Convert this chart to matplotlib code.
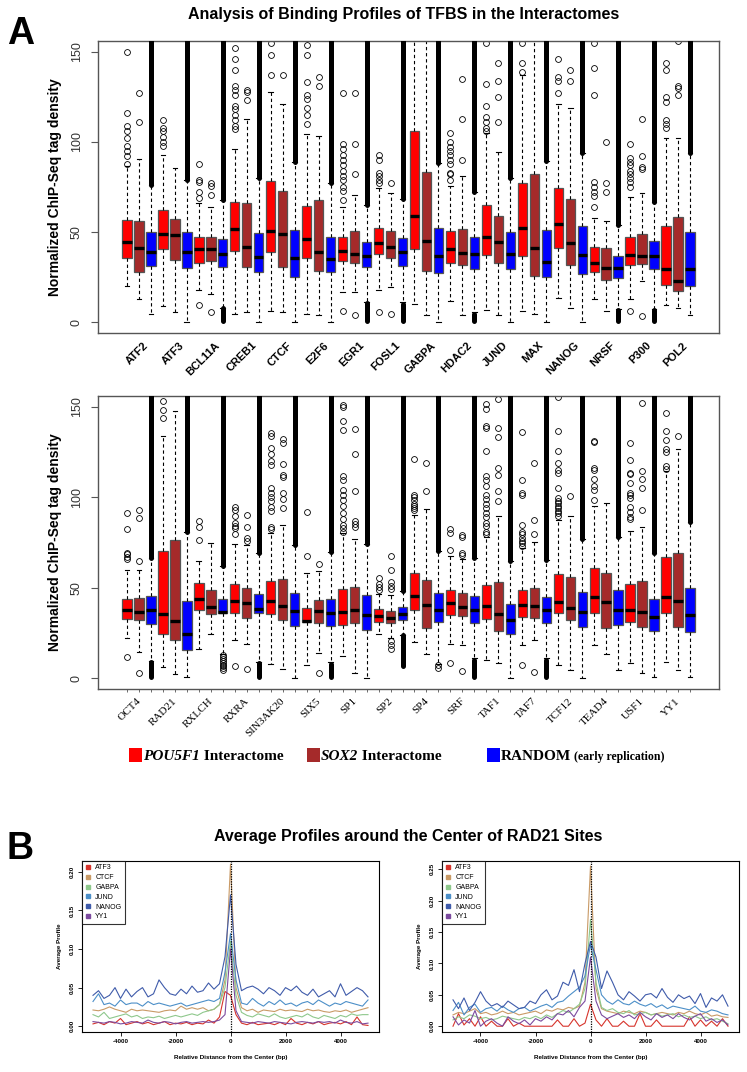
import numpy as np
import matplotlib.pyplot as plt
from matplotlib.lines import Line2D
from matplotlib.patches import Rectangle

# ---------------- panel A data: (whisker low, q1, median, q3, whisker high) ----------------
top_names = ["ATF2", "ATF3", "BCL11A", "CREB1", "CTCF", "E2F6", "EGR1", "FOSL1",
             "GABPA", "HDAC2", "JUND", "MAX", "NANOG", "NRSF", "P300", "POL2"]

top_pou = [(20, 35.7, 44.6, 56.7, 86.7), (8.9, 40.4, 48.9, 62.2, 92.6), (18.1, 33.1, 40.4, 47.4, 65.9),
           (4.4, 39.6, 51.5, 66.5, 95.9), (6.3, 39.1, 50.6, 78.3, 127.6), (4.4, 35.7, 46.3, 64.6, 104.3),
           (16.5, 34, 39.6, 47.4, 64), (17.8, 37.8, 44.1, 52.4, 74.3), (10, 40.7, 58.9, 106.1, 160),
           (11.7, 33.1, 40.4, 50.7, 75.6), (7, 37, 47.2, 64.8, 104.8), (6.3, 36.7, 52, 77, 137.2),
           (13.5, 40.9, 54.3, 74.3, 121.1), (13, 27.6, 33.1, 41.9, 57.6), (13.1, 31.7, 37, 47, 69.6),
           (9.8, 20.9, 29.3, 53.3, 102.4)]
top_sox = [(12.8, 28, 41, 56.1, 90.7), (5.7, 34.4, 48.1, 57.2, 85.4), (15.9, 33.9, 40.4, 47.4, 64),
           (5.7, 30.4, 41.5, 65.9, 112.8), (5.7, 30.4, 48.7, 72.8, 120.9), (3.9, 28.5, 39, 67.8, 103.3),
           (16.5, 33.1, 37.8, 50.7, 70.6), (19.6, 35.4, 41.9, 50.6, 71.5), (3.9, 28.3, 45.2, 83.3, 160),
           (3.9, 31.7, 38.5, 51.5, 81.3), (3.9, 32.6, 44.6, 59.1, 94.3), (4.8, 25.6, 41.1, 82.2, 160),
           (7.6, 31.7, 43.7, 68.1, 118.7), (6.1, 23.3, 29.8, 40.9, 56.3), (22.8, 32.2, 36.7, 48.7, 71.9),
           (7.6, 17.2, 23, 58.1, 102.4)]
top_rnd = [(4.8, 31.3, 39, 49.8, 76), (0, 30.2, 39, 50.2, 79), (8, 30.4, 37.8, 45.9, 67.8),
           (0, 28, 36.3, 49.3, 79.8), (0, 25.2, 35.7, 51.1, 89), (0, 27.6, 35.2, 47.4, 77),
           (11, 30.4, 36.9, 44.3, 65), (11, 31.3, 38.9, 46.7, 68.1), (0, 27.4, 36.7, 52, 88.1),
           (5.5, 29.6, 37.6, 47, 72), (0, 29.3, 37.8, 49.8, 80.2), (0, 24.8, 33.5, 51.1, 89.6),
           (0, 26.5, 37, 53.5, 93.7), (7.5, 24.3, 29.8, 36.7, 53.9), (7.5, 29.3, 36.7, 45, 66.9),
           (3.9, 20, 29.3, 49.8, 93.7)]
top_pou_out = [[150, 116, 109, 106, 102, 98, 95, 92, 88], [112, 108, 106, 103, 100, 98],
               [87.6, 78.9, 77.6, 72.4, 68.7, 9.8],
               [152, 146, 140, 131, 129, 126, 120, 118, 115, 112, 109, 107], [155, 148, 137],
               [154, 148, 133, 126, 124, 119, 115, 110],
               [127, 99, 96, 93, 90, 87, 84, 81, 79, 75, 73, 68, 6.3], [93, 90, 83, 81, 79, 77, 5.7], [],
               [105, 100, 97, 95, 93, 90, 88, 83, 82, 79], [155, 132, 120, 114, 111, 108, 106],
               [155, 144, 139], [146, 136, 134, 127], [155, 141, 126, 78, 75, 72, 70, 64],
               [99, 91, 89, 87, 84, 82, 80, 78, 75, 6.3], [144, 140, 125, 122, 112, 110, 108]]
top_sox_out = [[127, 111], [], [77, 75.7, 70.6, 5.7], [129, 127.6, 123], [137], [136, 131],
               [127, 99, 82, 3.9], [77, 4.8], [], [135, 113, 90], [144, 134, 125, 111], [],
               [140, 134], [100, 77, 72], [113, 92, 86, 85, 3.3], [156, 131, 130, 126]]
top_rnd_out = [[] for _ in range(16)]
top_dense_hi = [76, 79, 67.8, 79.8, 89, 77, 65, 68.1, 88.1, 72, 80.2, 89.6, 93.7, 53.9, 66.9, 93.7]
top_dense_lo = [None, None, (0, 7.6), None, None, None, (0, 10.4), (0, 10), None, (0, 4.8),
                None, None, None, (0, 6.7), (0, 6.7), None]

# ---------------- second row of panel A ----------------
bot_names = ["OCT4", "RAD21", "RXLCH", "RXRA", "SIN3AK20", "SIX5", "SP1", "SP2",
             "SP4", "SRF", "TAF1", "TAF7", "TCF12", "TEAD4", "USF1", "YY1"]

bot_pou = [(22.2, 32.7, 37.9, 44, 59.7), (6.1, 24.6, 35.7, 70.3, 134), (16.3, 37.5, 44, 52.7, 65),
           (21.3, 36.2, 42.7, 51.8, 74), (8, 35.3, 42.7, 53.6, 80), (7.4, 31.1, 31.6, 39, 57.9),
           (12, 29.2, 36.6, 49.2, 80), (24.6, 31.1, 34.2, 38.1, 46.8), (20, 37.5, 45.3, 57.9, 90),
           (19, 35.1, 41.6, 48.6, 67.5), (10.2, 32.6, 39.8, 51.4, 78), (18.1, 33.8, 40.7, 49, 71.8),
           (7.4, 36.2, 42.2, 57.5, 87.5), (18.1, 36.2, 44.9, 61, 95.2), (8.3, 31.1, 37.9, 51.8, 81.6),
           (8.9, 36.2, 44.9, 66.8, 114.3)]
bot_sox = [(14.4, 32, 36.6, 44.4, 59.7), (2.4, 20.9, 31.4, 76.4, 147.6), (24.6, 35.7, 39.4, 48.6, 74.5),
           (19, 33.5, 41.6, 49.6, 73.6), (5.2, 32.4, 40.1, 54.7, 84.7), (14.1, 30.7, 37.2, 43.1, 59.2),
           (2.8, 30.7, 37.5, 50.5, 76.8), (22.4, 30.5, 33.5, 37, 45.9), (13.5, 27.7, 40.7, 54.2, 93.4),
           (18.1, 34.6, 39.4, 47.3, 66), (8.3, 26.1, 35.7, 53.3, 89.9), (20.9, 33.5, 39.8, 50.1, 75.1),
           (4.6, 32, 38.8, 55.7, 89.7), (13.5, 27.7, 42.2, 57.9, 96.7), (2.8, 28.3, 36.6, 53.6, 83.8),
           (4.6, 28.3, 42.7, 69.4, 126.7)]
bot_rnd = [(9.5, 30.1, 37.9, 45.3, 66.2), (0.6, 15.7, 24.6, 42.4, 81), (13.5, 36.1, 36.6, 43.5, 62),
           (9, 36.1, 38.5, 46.8, 69.4), (0, 28.7, 37.2, 47.3, 73.6), (9, 28.7, 36.2, 43.6, 69.9),
           (0, 26.8, 34.8, 46.2, 74), (24, 32.4, 35.7, 39.4, 48.3), (8, 31.1, 37.9, 47.3, 70.5),
           (11, 30.7, 37.9, 45.3, 66.2), (0, 24.6, 32, 41.2, 64.7), (11, 30.7, 37.5, 44.8, 65.3),
           (0, 28.3, 36.6, 47.9, 76.8), (4.3, 29.6, 37.5, 49, 77.9), (0.6, 26.1, 33.8, 43.6, 69),
           (0.6, 25.5, 34.8, 50.1, 86.6)]
bot_pou_out = [[91.5, 82.7, 69.4, 68.4, 67.1, 65.8, 11.7], [153.5, 148.5, 143.9], [86.9, 83.8, 76.4],
               [94.9, 93, 89.7, 85.6, 84.3, 82.9, 79.7, 6.5],
               [135.6, 133.7, 127.2, 124.1, 119.8, 118, 105, 102.3, 99.9, 97.7, 94.9, 92.5, 83.8, 82.7],
               [92.1, 67.7],
               [151.3, 150, 142.4, 137, 111.9, 109.7, 104.1, 101.3, 98.6, 95.2, 91.2, 87.8, 84.7, 82.9, 81],
               [55.1, 52.3, 50.5, 48.6], [121.1, 101.3, 100, 98.6, 96.4, 95.2, 94, 92.7],
               [82.3, 80.1, 70.8, 8.3],
               [151.7, 148.9, 139.6, 138.3, 125.4, 111.5, 109.7, 106, 101.3, 99.1, 96.4, 94, 91.2, 89.3,
                85.6, 84.1, 81, 79.7],
               [135.9, 109.3, 102.6, 101.3, 84.7, 81, 79.7, 77.3, 76, 74.5, 73.2, 7],
               [155.4, 136.5, 125.8, 118.9, 115.2, 113.7, 105, 99.5, 98.2, 96.7, 95.2, 94, 92.5, 91.2, 89.7],
               [130.9, 130.4, 116.1, 115.2, 110, 106, 104.1, 98.6],
               [130, 120.4, 113.7, 112.8, 107.8, 102.3, 101, 99.5, 94.9, 92.1, 89.3, 87.8],
               [146.7, 136.9, 131.9, 126.7, 124.8, 117.4, 115.6]]
bot_sox_out = [[93, 88.4, 64.7, 3.1], [], [], [90.3, 83.8, 77.3, 75.8, 5],
               [132.2, 130, 118.5, 112.4, 111.2, 102.6, 98.9, 94.3], [62.9, 2.8],
               [138, 124.1, 103.2, 87.1, 85.1, 83.8], [67.5, 59.7, 53.3, 50.9, 49.2, 20.5, 18.1, 16.3],
               [118.9, 103.6], [79.2, 78.2, 69, 68, 3.9],
               [154.4, 138.3, 133.3, 116.1, 112.4, 103.2, 98.2], [118.9, 87.5, 79.7, 3.3], [100.8], [],
               [152.2, 114.3, 110.2, 105, 93], [133.7]]
bot_rnd_out = [[], [], [12.6, 11.5, 10.5, 9.5, 8.5, 7.5, 6.5, 5.5, 4.6], [], [], [], [], [],
               [7, 5.7], [], [], [], [], [], [], []]
bot_dense_hi = [66.2, 81, 62, 69.4, 73.6, 69.9, 74, 48.3, 70.5, 66.2, 64.7, 65.3, 76.8, 77.9, 69, 86.6]
bot_dense_lo = [(0, 8.9), None, None, (0, 8.3), None, (0, 8), None, (6, 23.7), None, (0, 10.2),
                None, (0, 10.2), None, None, None, None]

# ---------------- panel B data (profile x 1000), -5000..5000 bp every 200 bp ----------------
dist = np.arange(-5000, 5001, 200)
prof_names = ["ATF3", "CTCF", "GABPA", "JUND", "NANOG", "YY1"]
prof_cols = ["#D7342C", "#C99A66", "#8EC88C", "#4C8FC8", "#3F5BAA", "#7B4A9E"]

left_atf3 = [3, 5, 2, 6, 4, 10, 2, 4, 6, 3, 5, 2, 4, 6, 2, 4, 3, 5, 2, 4, 3, 8, 4, 12, 45, 40,
             15, 4, 2, 5, 2, 3, 4, 2, 5, 2, 10, 4, 2, 5, 3, 6, 2, 4, 5, 3, 6, 2, 12, 2, 1]
left_ctcf = [21, 20, 22, 25, 22, 20, 18, 22, 20, 21, 20, 19, 18, 20, 21, 20, 26, 22, 24, 22, 24, 20, 22, 28, 60, 210,
             50, 24, 20, 22, 18, 21, 20, 19, 22, 20, 21, 20, 19, 22, 20, 21, 19, 18, 20, 19, 21, 18, 20, 22, 24]
left_gabpa = [15, 12, 18, 10, 12, 14, 16, 12, 14, 10, 12, 11, 13, 10, 12, 14, 12, 14, 16, 14, 18, 20, 22, 28, 50, 110,
              40, 18, 14, 12, 16, 14, 12, 16, 12, 10, 12, 14, 12, 16, 12, 10, 14, 12, 10, 14, 12, 16, 14, 15, 15]
left_jund = [32, 42, 28, 30, 26, 34, 28, 30, 30, 26, 32, 28, 30, 28, 26, 28, 30, 26, 28, 30, 32, 34, 32, 36, 70, 120,
             60, 30, 28, 36, 30, 26, 32, 28, 34, 28, 30, 26, 30, 32, 28, 34, 30, 26, 30, 28, 32, 30, 28, 26, 34]
left_nanog = [40, 46, 36, 40, 50, 36, 48, 38, 45, 50, 38, 42, 60, 50, 42, 40, 48, 42, 52, 44, 46, 56, 48, 55, 90, 170,
              80, 46, 50, 52, 48, 42, 50, 46, 40, 50, 46, 52, 44, 40, 48, 38, 42, 46, 38, 55, 40, 45, 50, 46, 38]
left_yy1 = [6, 5, 4, 6, 5, 3, 4, 6, 5, 4, 8, 5, 4, 6, 5, 3, 5, 6, 4, 5, 6, 5, 6, 8, 15, 100,
            20, 6, 5, 4, 6, 5, 4, 6, 5, 4, 3, 5, 6, 5, 4, 6, 5, 6, 4, 8, 5, 4, 6, 3, 4]

right_atf3 = [0, 20, 2, 12, 0, 15, 0, 8, 0, 0, 12, 0, 5, 0, 0, 0, 0, 0, 0, 10, 0, 0, 12, 0, 5, 35,
              10, 0, 12, 0, 0, 8, 0, 0, 20, 0, 0, 10, 0, 0, 0, 0, 0, 15, 0, 10, 0, 8, 0, 12, 0]
right_ctcf = [18, 22, 20, 24, 28, 20, 22, 18, 20, 24, 20, 22, 18, 20, 22, 24, 20, 26, 24, 28, 26, 30, 28, 32, 70, 255,
              60, 28, 24, 22, 20, 24, 22, 20, 24, 22, 18, 20, 22, 20, 18, 22, 20, 24, 20, 18, 22, 16, 18, 15, 14]
right_gabpa = [10, 15, 12, 18, 16, 12, 14, 10, 12, 16, 14, 12, 10, 14, 12, 16, 12, 18, 14, 20, 25, 22, 28, 35, 60, 170,
               70, 30, 25, 28, 22, 20, 25, 18, 20, 22, 18, 20, 16, 18, 20, 15, 18, 14, 16, 12, 15, 10, 12, 8, 4]
right_jund = [25, 38, 18, 30, 35, 22, 28, 30, 24, 32, 26, 22, 28, 30, 24, 28, 32, 35, 30, 38, 40, 48, 55, 62, 80, 130,
              90, 50, 40, 35, 42, 36, 34, 40, 35, 32, 36, 30, 34, 28, 32, 30, 28, 26, 32, 24, 22, 26, 24, 20, 18]
right_nanog = [42, 28, 45, 25, 38, 55, 40, 32, 36, 30, 40, 34, 28, 30, 40, 36, 50, 58, 42, 48, 70, 65, 90, 55, 100, 135,
               110, 60, 88, 70, 50, 42, 55, 48, 40, 50, 52, 45, 60, 46, 38, 50, 44, 48, 36, 52, 30, 45, 40, 50, 32]
right_yy1 = [15, 2, 10, 5, 25, 0, 8, 12, 5, 0, 15, 8, 4, 10, 2, 12, 8, 15, 10, 20, 18, 25, 15, 30, 40, 110,
             40, 18, 12, 16, 20, 14, 18, 12, 22, 15, 10, 20, 14, 18, 12, 20, 14, 10, 16, 20, 8, 12, 6, 10, 2]

cols = ["#FF0000", "#A52A2A", "#0000FF"]


def draw_boxes(ax, names, series, outs, dense_hi, dense_lo, dx, lab_kw):
    n = len(names)
    stats, colors, pos = [], [], []
    for g in range(n):
        for s in range(3):
            lo, q1, med, q3, hi = series[s][g]
            stats.append(dict(whislo=lo, q1=q1, med=med, q3=q3, whishi=hi, fliers=outs[s][g]))
            colors.append(cols[s])
            pos.append(g * 3 + s + 1)
    bp = ax.bxp(stats, positions=pos, widths=0.78, patch_artist=True,
                boxprops=dict(edgecolor="#555555", linewidth=0.9),
                medianprops=dict(color="black", linewidth=2.4),
                whiskerprops=dict(color="black", linewidth=0.8, linestyle=(0, (3, 2.5))),
                capprops=dict(color="black", linewidth=0.8),
                capwidths=0.4,
                flierprops=dict(marker="o", markerfacecolor="none", markeredgecolor="black",
                                markersize=4.2, markeredgewidth=0.6))
    for patch, c in zip(bp["boxes"], colors):
        patch.set_facecolor(c)
    # dense outlier columns of the random sets
    for g in range(n):
        x = g * 3 + 3
        ax.plot([x, x], [dense_hi[g], 170], color="black", lw=3.6, solid_capstyle="round", zorder=3)
        if dense_lo[g] is not None:
            ax.plot([x, x], [dense_lo[g][0] + 0.8, dense_lo[g][1]], color="black", lw=3.6,
                    solid_capstyle="round", zorder=3)
    ax.set_xlim(-1.42, 3 * n + 2.42)
    ax.set_ylim(-6, 156)
    ax.set_xticks([])
    ax.set_yticks([0, 50, 100, 150])
    ax.set_yticklabels(["0", "50", "100", "150"], rotation=90, va="center", fontsize=9, color="#333333")
    ax.tick_params(axis="y", length=5, width=0.8, pad=6, color="#555555")
    for sp in ax.spines.values():
        sp.set_color("#555555")
        sp.set_linewidth(1.0)
    ax.set_ylabel("Normalized ChIP-Seq tag density", fontsize=10, fontweight="bold", labelpad=6)
    for g, name in enumerate(names):
        ax.text(g * 3 + dx, -0.025, name, transform=ax.get_xaxis_transform(),
                rotation=45, ha="right", va="top", rotation_mode="anchor", **lab_kw)


fig = plt.figure(figsize=(7.47, 10.72), dpi=100)
plt.rcParams["font.family"] = ["Liberation Sans", "DejaVu Sans"]

ax1 = fig.add_axes([98 / 747, 1 - 333 / 1072, 621 / 747, 292 / 1072])
draw_boxes(ax1, top_names, [top_pou, top_sox, top_rnd], [top_pou_out, top_sox_out, top_rnd_out],
           top_dense_hi, top_dense_lo, 2.35, dict(fontsize=8, fontweight="bold", family="Liberation Sans"))

ax2 = fig.add_axes([98 / 747, 1 - 689 / 1072, 621 / 747, 293 / 1072])
draw_boxes(ax2, bot_names, [bot_pou, bot_sox, bot_rnd], [bot_pou_out, bot_sox_out, bot_rnd_out],
           bot_dense_hi, bot_dense_lo, 1.8, dict(fontsize=8, family="Liberation Serif"))
ax2.set_xticks(np.arange(1, 49), minor=True)
ax2.tick_params(axis="x", which="minor", length=2, color="#555555")

fig.text(404 / 747, 1 - 14 / 1072, "Analysis of Binding Profiles of TFBS in the Interactomes",
         ha="center", va="center", fontsize=11.5, fontweight="bold")
fig.text(21 / 747, 1 - 34 / 1072, "A", ha="center", va="center", fontsize=27, fontweight="bold")
fig.text(20 / 747, 1 - 849 / 1072, "B", ha="center", va="center", fontsize=27, fontweight="bold")

# legend row of panel A
leg_y = 1 - 755 / 1072
sq_w, sq_h = 13 / 747, 14 / 1072
leg_items = [(129, cols[0], "POU5F1", "italic", " Interactome", 11),
             (307, cols[1], "SOX2", "italic", " Interactome", 11),
             (487, cols[2], "RANDOM", "normal", " (early replication)", 8.5)]
for x0, c, first, sty, rest, rest_size in leg_items:
    fig.patches.append(Rectangle((x0 / 747, leg_y - sq_h / 2), sq_w, sq_h, transform=fig.transFigure,
                                 facecolor=c, edgecolor="none"))
    t1 = fig.text(x0 / 747 + sq_w + 1 / 747, leg_y, first, ha="left", va="center_baseline",
                  fontsize=11, fontweight="bold", family="Liberation Serif", style=sty)
    fig.add_artist(plt.Annotation(rest, xy=(1, 0), xycoords=t1, xytext=(0, 0),
                                  textcoords="offset points", ha="left", va="bottom",
                                  fontsize=rest_size, fontweight="bold", family="Liberation Serif",
                                  annotation_clip=False))

fig.text(408 / 747, 1 - 837 / 1072, "Average Profiles around the Center of RAD21 Sites",
         ha="center", va="center", fontsize=11.5, fontweight="bold")


def draw_profiles(ax, lines, ymax, yticks):
    for vals, c in zip(lines, prof_cols):
        ax.plot(dist, np.array(vals) / 1000.0, color=c, lw=0.8)
    ax.axvline(0, color="black", lw=0.9, linestyle=(0, (1, 1)))
    ax.set_xlim(-5400, 5400)
    ax.set_ylim(-0.035 * ymax, ymax)
    ax.set_xticks([-4000, -2000, 0, 2000, 4000])
    ax.set_xticklabels(["-4000", "-2000", "0", "2000", "4000"], fontsize=4.5, fontweight="bold")
    ax.set_yticks(yticks)
    ax.set_yticklabels(["%.2f" % v for v in yticks], rotation=90, va="center", fontsize=4.5,
                       fontweight="bold")
    ax.tick_params(length=3, width=0.6, pad=2)
    for sp in ax.spines.values():
        sp.set_linewidth(0.8)
    ax.set_xlabel("Relative Distance from the Center (bp)", fontsize=4.5, fontweight="bold", labelpad=8)
    ax.set_ylabel("Average Profile", fontsize=4.5, fontweight="bold", labelpad=6)
    handles = [Line2D([], [], marker="s", color=c, ls="none", markersize=2.2) for c in prof_cols]
    lg = ax.legend(handles, prof_names, loc="upper left", fontsize=5, frameon=True, fancybox=False,
                   borderaxespad=0, handlelength=0.8, handletextpad=0.6, labelspacing=0.4,
                   borderpad=0.5)
    lg.get_frame().set_edgecolor("black")
    lg.get_frame().set_linewidth(0.8)


ax3 = fig.add_axes([82 / 747, 1 - 1032 / 1072, 297 / 747, 171 / 1072])
draw_profiles(ax3, [left_atf3, left_ctcf, left_gabpa, left_jund, left_nanog, left_yy1],
              0.214, [0.0, 0.05, 0.10, 0.15, 0.20])
ax4 = fig.add_axes([442 / 747, 1 - 1032 / 1072, 297 / 747, 171 / 1072])
draw_profiles(ax4, [right_atf3, right_ctcf, right_gabpa, right_jund, right_nanog, right_yy1],
              0.263, [0.0, 0.05, 0.10, 0.15, 0.20, 0.25])

fig.savefig("out.png", dpi=100)
